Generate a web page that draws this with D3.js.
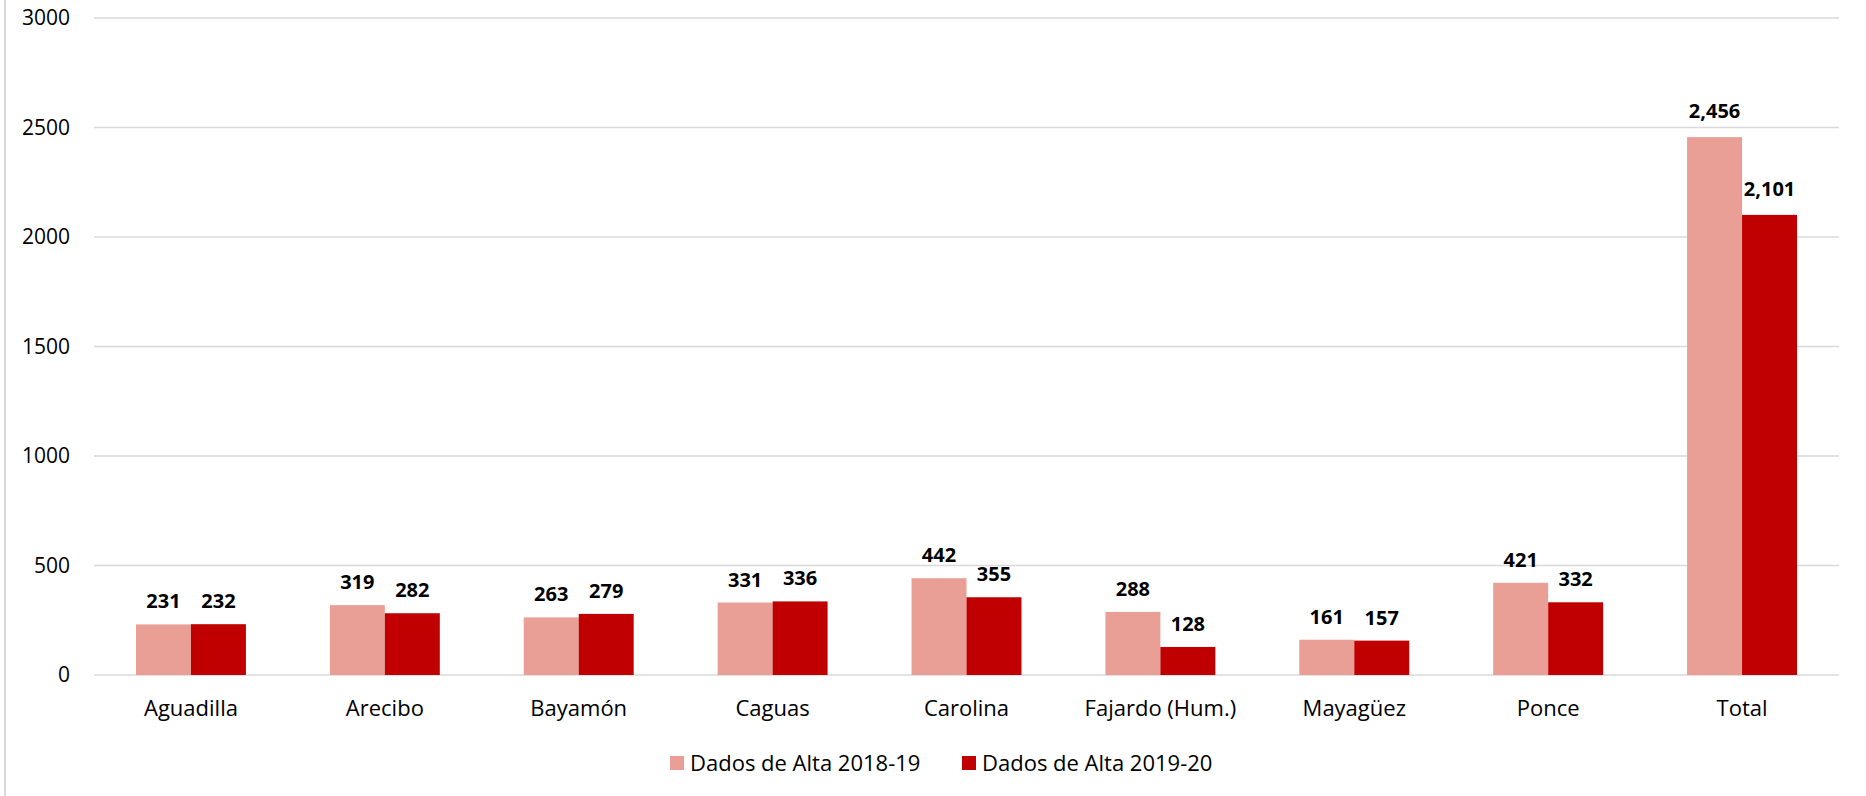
<!DOCTYPE html>
<html>
<head>
<meta charset="utf-8">
<script src="https://cdn.jsdelivr.net/npm/d3@7"></script>
<style>
  body { margin: 0; background: #fff; }
  svg { display: block; font-family: "Open Sans", "Noto Sans", sans-serif; }
</style>
</head>
<body>
<div id="chart"></div>
<script>
// ---------------------------------------------------------------
// Data
// ---------------------------------------------------------------
const regions = ['Aguadilla', 'Arecibo', 'Bayamón', 'Caguas', 'Carolina', 'Fajardo (Hum.)', 'Mayagüez', 'Ponce', 'Total'];
const alta_2018_19 = [231, 319, 263, 331, 442, 288, 161, 421, 2456];
const alta_2019_20 = [232, 282, 279, 336, 355, 128, 157, 332, 2101];
const series_names = ['Dados de Alta 2018-19', 'Dados de Alta 2019-20'];
const series_colors = ['#E99F95', '#C00000'];
const y_ticks = [0, 500, 1000, 1500, 2000, 2500, 3000];

const width = 1866, height = 796;
const margin = {left: 94, right: 27, top: 18, bottom: 121};
const grid_color = '#D9D9D9';
const font = '"Open Sans", "Noto Sans", sans-serif';

const svg = d3.select('#chart').append('svg')
  .attr('width', width)
  .attr('height', height);

// left border of the chart area
svg.append('line')
  .attr('x1', 5).attr('x2', 5)
  .attr('y1', 0).attr('y2', height)
  .attr('stroke', grid_color)
  .attr('stroke-width', 2);

const plot = svg.append('g')
  .attr('transform', `translate(${margin.left},${margin.top})`);

const plot_w = width - margin.left - margin.right;
const plot_h = height - margin.top - margin.bottom;

const x = d3.scaleBand()
  .domain(regions)
  .range([0, plot_w])
  .paddingInner(0.433)
  .paddingOuter(0.2165);

const x_inner = d3.scaleBand()
  .domain([0, 1])
  .range([0, x.bandwidth()]);

const y = d3.scaleLinear()
  .domain([0, 3000])
  .range([plot_h, 0]);

// gridlines
plot.append('g')
  .selectAll('line')
  .data(y_ticks)
  .join('line')
    .attr('x1', 0)
    .attr('x2', plot_w)
    .attr('y1', d => y(d))
    .attr('y2', d => y(d))
    .attr('stroke', grid_color)
    .attr('stroke-width', 1.5);

// y axis labels
const y_axis = plot.append('g')
  .call(d3.axisLeft(y).tickValues(y_ticks).tickSize(0).tickPadding(24).tickFormat(d3.format('d')));
y_axis.select('.domain').remove();
y_axis.selectAll('text')
  .attr('font-family', font)
  .attr('font-size', 21)
  .attr('fill', '#000');

// x axis labels
const x_axis = plot.append('g')
  .attr('transform', `translate(0,${plot_h})`)
  .call(d3.axisBottom(x).tickSize(0).tickPadding(25));
x_axis.select('.domain').remove();
x_axis.selectAll('text')
  .attr('font-family', font)
  .attr('font-size', 22)
  .attr('fill', '#000');

// bars
const rows = regions.map((r, i) => ({region: r, values: [alta_2018_19[i], alta_2019_20[i]]}));

const groups = plot.append('g')
  .selectAll('g')
  .data(rows)
  .join('g')
    .attr('transform', d => `translate(${x(d.region)},0)`);

groups.selectAll('rect')
  .data(d => d.values.map((v, k) => ({k, v})))
  .join('rect')
    .attr('x', d => x_inner(d.k))
    .attr('width', x_inner.bandwidth())
    .attr('y', d => y(d.v))
    .attr('height', d => plot_h - y(d.v))
    .attr('fill', d => series_colors[d.k]);

// value labels
groups.selectAll('text')
  .data(d => d.values.map((v, k) => ({k, v})))
  .join('text')
    .attr('x', d => x_inner(d.k) + x_inner.bandwidth() / 2)
    .attr('y', d => y(d.v) - (d.v > 1000 ? 19 : 16))
    .attr('text-anchor', 'middle')
    .attr('font-size', 20)
    .attr('font-weight', 'bold')
    .attr('fill', '#000')
    .text(d => d3.format(',')(d.v));

// legend
const legend_x = [670, 962];
const legend = svg.append('g')
  .selectAll('g')
  .data(series_names)
  .join('g')
    .attr('transform', (d, i) => `translate(${legend_x[i]},763)`);

legend.append('rect')
  .attr('x', 0)
  .attr('y', -7)
  .attr('width', 14)
  .attr('height', 14)
  .attr('fill', (d, i) => series_colors[i]);

legend.append('text')
  .attr('x', 20)
  .attr('dy', '0.35em')
  .attr('font-size', 22)
  .attr('fill', '#000')
  .text(d => d);
</script>
</body>
</html>
